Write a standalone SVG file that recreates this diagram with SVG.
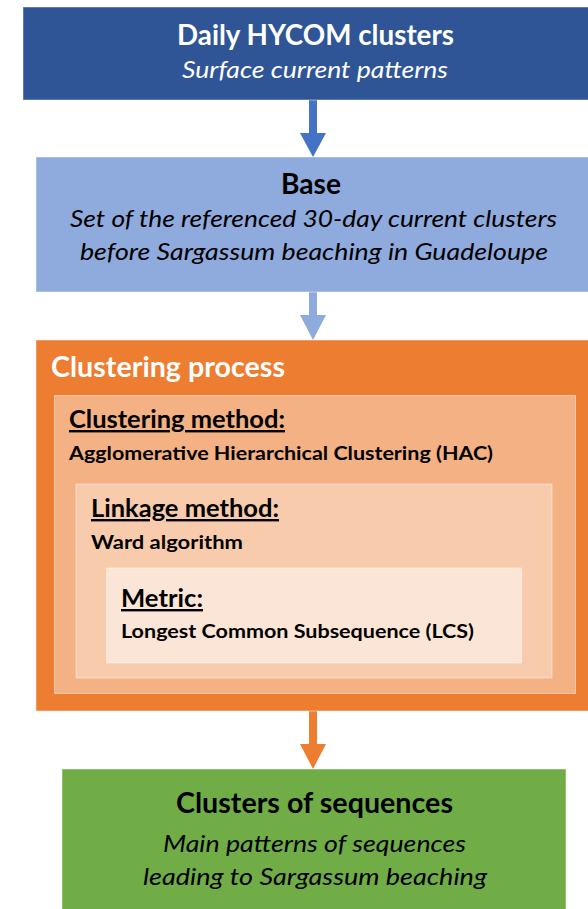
<svg xmlns="http://www.w3.org/2000/svg" width="588" height="909" viewBox="0 0 588 909">
  <style>
    .box { stroke: #ffffff; stroke-opacity: 0.45; stroke-width: 1; }
    .t { font-family: Lato, "Open Sans", "Liberation Sans", sans-serif; }
    .h { font-weight: bold; font-size: 28px; }
    .i { font-style: italic; font-size: 24px; }
    .lbl { font-weight: bold; font-size: 24px; text-decoration: underline; }
    .val { font-weight: bold; font-size: 19px; }
    .mid { text-anchor: middle; }
  </style>

  <!-- flow arrows between stages -->
  <g id="connectors">
    <polygon points="309,100 317,100 317,133 326,133 313,157 300,133 309,133" fill="#4472C4"/>
    <polygon points="309,292 317,292 317,315 326,315 313,340 300,315 309,315" fill="#8FAADC"/>
    <polygon points="309,711 317,711 317,744 326,744 313,769 300,744 309,744" fill="#ED7D31"/>
  </g>

  <!-- source data -->
  <g id="hycom">
    <rect class="box" x="23" y="7" width="590" height="93" fill="#2F5597"/>
    <text class="t h mid" x="315.5" y="45" fill="#ffffff" textLength="277" lengthAdjust="spacingAndGlyphs">Daily HYCOM clusters</text>
    <text class="t i mid" x="315" y="78" fill="#ffffff" textLength="266" lengthAdjust="spacingAndGlyphs">Surface current patterns</text>
  </g>

  <!-- base of referenced sequences -->
  <g id="base">
    <rect class="box" x="36" y="157" width="560" height="135" fill="#8FAADC"/>
    <text class="t h mid" x="311" y="194" fill="#000000" textLength="60" lengthAdjust="spacingAndGlyphs">Base</text>
    <text class="t i mid" x="313.5" y="227" fill="#000000" textLength="487" lengthAdjust="spacingAndGlyphs">Set of the referenced 30-day current clusters</text>
    <text class="t i mid" x="314" y="260" fill="#000000" textLength="468" lengthAdjust="spacingAndGlyphs">before Sargassum beaching in Guadeloupe</text>
  </g>

  <!-- clustering process with nested settings -->
  <g id="clustering-process">
    <rect class="box" x="36" y="340" width="560" height="371" fill="#ED7D31"/>
    <text class="t h" x="51" y="377" fill="#ffffff" textLength="234" lengthAdjust="spacingAndGlyphs">Clustering process</text>

    <g id="clustering-method">
      <rect class="box" x="54.5" y="395.5" width="521" height="298" fill="#F4B183"/>
      <text class="t lbl" x="69" y="428" fill="#000000" textLength="216" lengthAdjust="spacingAndGlyphs">Clustering method:</text>
      <text class="t val" x="69" y="460" fill="#000000" textLength="424" lengthAdjust="spacingAndGlyphs">Agglomerative Hierarchical Clustering (HAC)</text>
    </g>

    <g id="linkage-method">
      <rect class="box" x="76" y="484" width="476" height="194" fill="#F8CBAD"/>
      <text class="t lbl" x="91" y="517" fill="#000000" textLength="188" lengthAdjust="spacingAndGlyphs">Linkage method:</text>
      <text class="t val" x="91" y="549" fill="#000000" textLength="152" lengthAdjust="spacingAndGlyphs">Ward algorithm</text>
    </g>

    <g id="metric">
      <rect class="box" x="106.5" y="568" width="415" height="95" fill="#FBE5D6"/>
      <text class="t lbl" x="121" y="607" fill="#000000" textLength="82" lengthAdjust="spacingAndGlyphs">Metric:</text>
      <text class="t val" x="121" y="638" fill="#000000" textLength="353" lengthAdjust="spacingAndGlyphs">Longest Common Subsequence (LCS)</text>
    </g>
  </g>

  <!-- resulting clusters -->
  <g id="clusters-of-sequences">
    <rect class="box" x="62" y="769" width="504" height="150" fill="#70AD47"/>
    <text class="t h mid" x="314.5" y="813" fill="#000000" textLength="277" lengthAdjust="spacingAndGlyphs">Clusters of sequences</text>
    <text class="t i mid" x="314.5" y="852" fill="#000000" textLength="303" lengthAdjust="spacingAndGlyphs">Main patterns of sequences</text>
    <text class="t i mid" x="315" y="885" fill="#000000" textLength="344" lengthAdjust="spacingAndGlyphs">leading to Sargassum beaching</text>
  </g>
</svg>
